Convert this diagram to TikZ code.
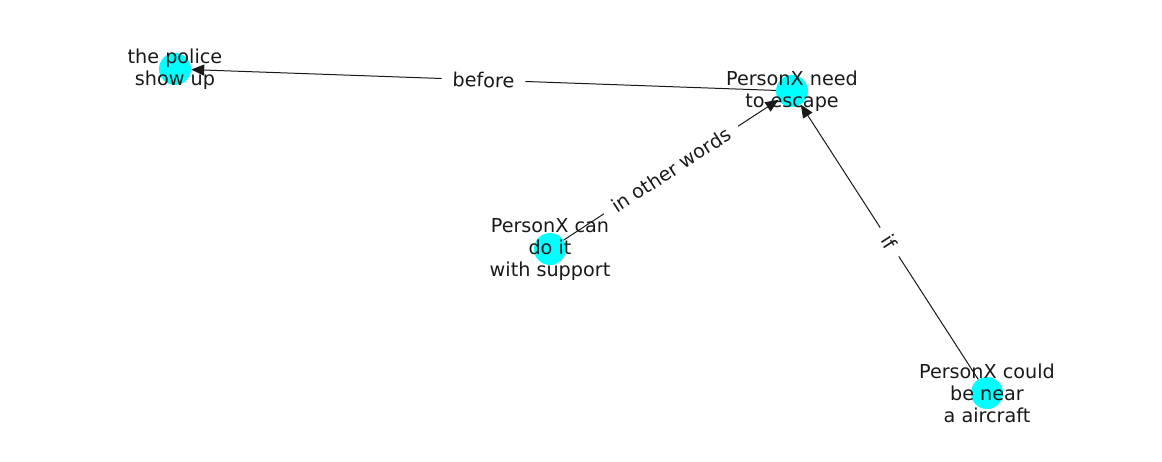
\documentclass[tikz,border=0pt]{standalone}
\usepackage{fontspec}
\setmainfont{DejaVu Sans}
\usetikzlibrary{arrows.meta}
\definecolor{nodecyan}{RGB}{0,255,255}
\begin{document}
\begin{tikzpicture}[x=1pt,y=-1pt,
    dot/.style={circle,fill=nodecyan,minimum size=32pt,inner sep=0pt},
    lbl/.style={align=center,font=\fontsize{19.2}{22}\selectfont,text=black!90},
    rel/.style={-{Triangle[length=13pt,width=11pt]},line width=1pt,black!90},
    tag/.style={fill=white,inner xsep=11pt,inner ysep=4pt,sloped,font=\fontsize{19.2}{22}\selectfont,text=black!90}]
    \useasboundingbox (0,0) rectangle (1162,462);
    % Nodes
    \foreach \x/\y/\n in {175/69/police, 792/91/need, 550/249/can, 987/393/could} {
        \node[dot] (\n) at (\x,\y) {};
    }
    % Relations
    \draw[rel] (need) -- node[tag] {before} (police);
    \draw[rel] (can) -- node[tag] {in other words} (need);
    \draw[rel] (could) -- node[tag] {if} (need);
    % Labels
    \node[lbl] at (police) {the police\\show up};
    \node[lbl] at (need) {PersonX need\\to escape};
    \node[lbl] at (can) {PersonX can\\do it\\with support};
    \node[lbl] at (could) {PersonX could\\be near\\a aircraft};
\end{tikzpicture}
\end{document}
